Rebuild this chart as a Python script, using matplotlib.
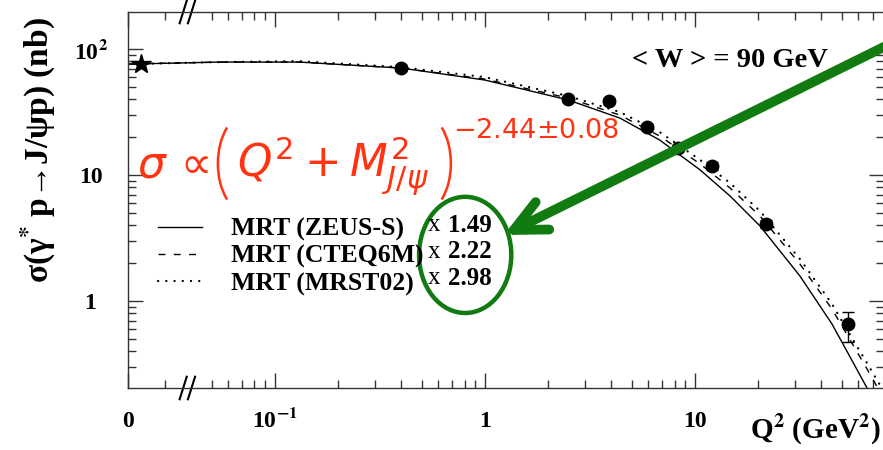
import matplotlib
matplotlib.use('Agg')
import matplotlib.pyplot as plt
from matplotlib.patches import Ellipse, Arc
from matplotlib.transforms import IdentityTransform

# curves (MRT predictions, already scaled)
q2_curve = [0.02, 0.055, 0.13, 0.40, 1.0, 2.5, 4.4, 6.8, 10.6, 14.7, 20.4, 31.6, 44.9, 54.1, 65.9, 79.4]
sig_zeus = [76.0, 78.9, 78.9, 70.7, 56.8, 39.4, 28.3, 18.95, 10.96, 6.81, 3.94, 1.58, 0.657, 0.373, 0.204, 0.114]
sig_cteq = [76.0, 78.9, 78.9, 70.7, 57.8, 40.8, 29.9, 20.4, 12.23, 7.89, 4.73, 1.966, 0.864, 0.508, 0.289, 0.167]
sig_mrst = [76.0, 78.9, 80.3, 71.9, 59.9, 42.4, 31.6, 21.9, 13.15, 8.64, 5.18, 2.154, 0.947, 0.557, 0.322, 0.190]

# measured points
q2_data = [0.40, 2.48, 3.9, 5.9, 8.3, 12.0, 21.8, 53.5]
sig_data = [70.7, 40.0, 38.6, 24.0, 16.4, 11.8, 4.1, 0.66]
err_lo = [4.0, 2.0, 2.0, 1.3, 1.0, 0.8, 0.3, 0.185]
err_hi = [4.0, 2.0, 2.0, 1.3, 1.0, 0.8, 0.3, 0.16]

# photoproduction point (Q2 = 0), drawn at the start of the axis
q2_photo = [0.023]
sig_photo = [76.0]

legend_labels = ['MRT (ZEUS-S)', 'MRT (CTEQ6M)', 'MRT (MRST02)']
norm_factors = ['1.49', '2.22', '2.98']

xtick_vals = [0.02, 0.1, 1, 10]
xtick_labels = ['0', r'10$^{\mathbf{-1}}$', '1', '10']
xminor_vals = [0.03, 0.05, 0.06, 0.07, 0.08, 0.09,
               0.2, 0.3, 0.4, 0.5, 0.6, 0.7, 0.8, 0.9,
               2, 3, 4, 5, 6, 7, 8, 9,
               20, 30, 40, 50, 60, 70]
ytick_vals = [1, 10, 100]
ytick_labels = ['1', '10', r'10$^{\mathbf{2}}$']
yminor_vals = [0.3, 0.4, 0.5, 0.6, 0.7, 0.8, 0.9,
               2, 3, 4, 5, 6, 7, 8, 9,
               20, 30, 40, 50, 60, 70, 80, 90]

green = '#117a11'
red = '#ff3311'
W, H = 883, 450

plt.rcParams['font.family'] = ['Liberation Serif', 'DejaVu Serif']
plt.rcParams['mathtext.fontset'] = 'stix'

fig = plt.figure(figsize=(W / 100, H / 100), dpi=100)
ax = fig.add_axes([128 / W, 62 / H, 756 / W, 376 / H])
ax.set_xscale('log')
ax.set_yscale('log')
ax.set_xlim(0.02, 79.4)
ax.set_ylim(0.204, 197)

l1, = ax.plot(q2_curve, sig_zeus, color='black', lw=1.0)
l2, = ax.plot(q2_curve, sig_cteq, color='black', lw=1.0, ls=(0, (5, 6)))
l3, = ax.plot(q2_curve, sig_mrst, color='black', lw=1.6, ls=(0, (0.1, 3.6)),
              dash_capstyle='round')

ax.errorbar(q2_data, sig_data, yerr=[err_lo, err_hi], fmt='o', ms=9,
            color='black', ecolor='black', elinewidth=1, capsize=4.3, capthick=1)
ax.plot(q2_photo, sig_photo, marker='*', ms=15, color='black', ls='none', clip_on=False)

# axes in ROOT style
for sp in ax.spines.values():
    sp.set_linewidth(1.0)
    sp.set_color('#333333')
ax.set_xticks(xtick_vals)
ax.set_xticklabels(xtick_labels)
ax.set_xticks(xminor_vals, minor=True)
ax.set_xticklabels([], minor=True)
ax.set_yticks(ytick_vals)
ax.set_yticklabels(ytick_labels)
ax.set_yticks(yminor_vals, minor=True)
ax.set_yticklabels([], minor=True)
ax.tick_params(which='both', direction='in', top=True, right=True, color='#333333', width=1)
ax.tick_params(which='major', length=11, labelsize=17)
ax.tick_params(which='minor', length=5.5)
ax.tick_params(axis='x', which='major', pad=28)
ax.tick_params(axis='y', which='major', pad=27)
for lab in ax.get_xticklabels():
    lab.set_va('baseline')
    lab.set_fontweight('bold')
for lab in ax.get_yticklabels():
    lab.set_ha('center')
    lab.set_fontweight('bold')

# axis break marks
for yb in (0.0, 1.0):
    for xb in (0.073, 0.084):
        ax.plot([xb - 0.0047, xb + 0.0047], [yb - 0.03, yb + 0.03], color='black',
                lw=1.5, transform=ax.transAxes, clip_on=False)

ax.set_ylabel(r'σ(γ$^{\mathbf{*}}$ p→J/ψp) (nb)', fontsize=24, fontweight='bold')
ax.yaxis.set_label_coords(-0.093, 0.633)
ax.set_xlabel(r'Q$^{\mathbf{2}}$ (GeV$^{\mathbf{2}}$)', fontsize=21, fontweight='bold', loc='right')
ax.xaxis.set_label_coords(0.995, -0.066)

ax.text(0.796, 0.872, '< W > = 90 GeV', transform=ax.transAxes, fontsize=20.5,
        fontweight='bold', ha='center', va='center')

ax.legend([l1, l2, l3], legend_labels, loc='upper left', bbox_to_anchor=(0.04, 0.452),
          frameon=False, prop={'size': 18.5, 'weight': 'bold'}, handlelength=1.7,
          handletextpad=1.15, labelspacing=0.14, borderpad=0, borderaxespad=0)
for i, f in enumerate(norm_factors):
    ax.text(0.397, 0.4335 - i * 0.0705, 'x', transform=ax.transAxes,
            fontsize=18, ha='left', va='center')
    ax.text(0.423, 0.4335 - i * 0.0705, f, transform=ax.transAxes,
            fontsize=18, fontweight='bold', ha='left', va='center')

# red fit formula; the tall brackets are thin arcs placed after the text is measured
renderer = fig.canvas.get_renderer()
base_y = 178
t_sig = fig.text(137 / W, 1 - base_y / H, r'$\sigma\,\propto$', fontsize=31.5, color=red,
                 math_fontfamily='dejavusans', va='baseline', ha='left')
xl = t_sig.get_window_extent(renderer).x1 + 9
fig.add_artist(Arc((xl + 30, H - 163.5), 60, 100, theta1=120, theta2=240,
                   color=red, lw=1.8, transform=IdentityTransform()))
t_mid = fig.text((xl + 19) / W, 1 - base_y / H, r'$Q^2 + M^2_{J/\psi}$', fontsize=31.5,
                 color=red, math_fontfamily='dejavusans', va='baseline', ha='left')
xr = t_mid.get_window_extent(renderer).x1 + 7
fig.add_artist(Arc((xr - 15, H - 163.5), 60, 100, theta1=-60, theta2=60,
                   color=red, lw=1.8, transform=IdentityTransform()))
fig.text((xr + 17) / W, 1 - 138 / H, r'$-2.44{\pm}0.08$', fontsize=19.5, color=red,
         math_fontfamily='dejavusans', va='baseline', ha='left')

ax.add_patch(Ellipse((0.446, 0.354), 0.122, 0.309, transform=ax.transAxes,
                     fill=False, ec=green, lw=3.2))
ax.annotate('', xy=(0.497, 0.407), xytext=(1.05, 0.957), xycoords='axes fraction',
            textcoords='axes fraction', annotation_clip=False,
            arrowprops=dict(arrowstyle='->, head_length=2.3, head_width=1.1', lw=7,
                            color=green, shrinkA=0, shrinkB=0, mutation_scale=10,
                            capstyle='round', joinstyle='round'))

fig.savefig('out.png', dpi=100)
